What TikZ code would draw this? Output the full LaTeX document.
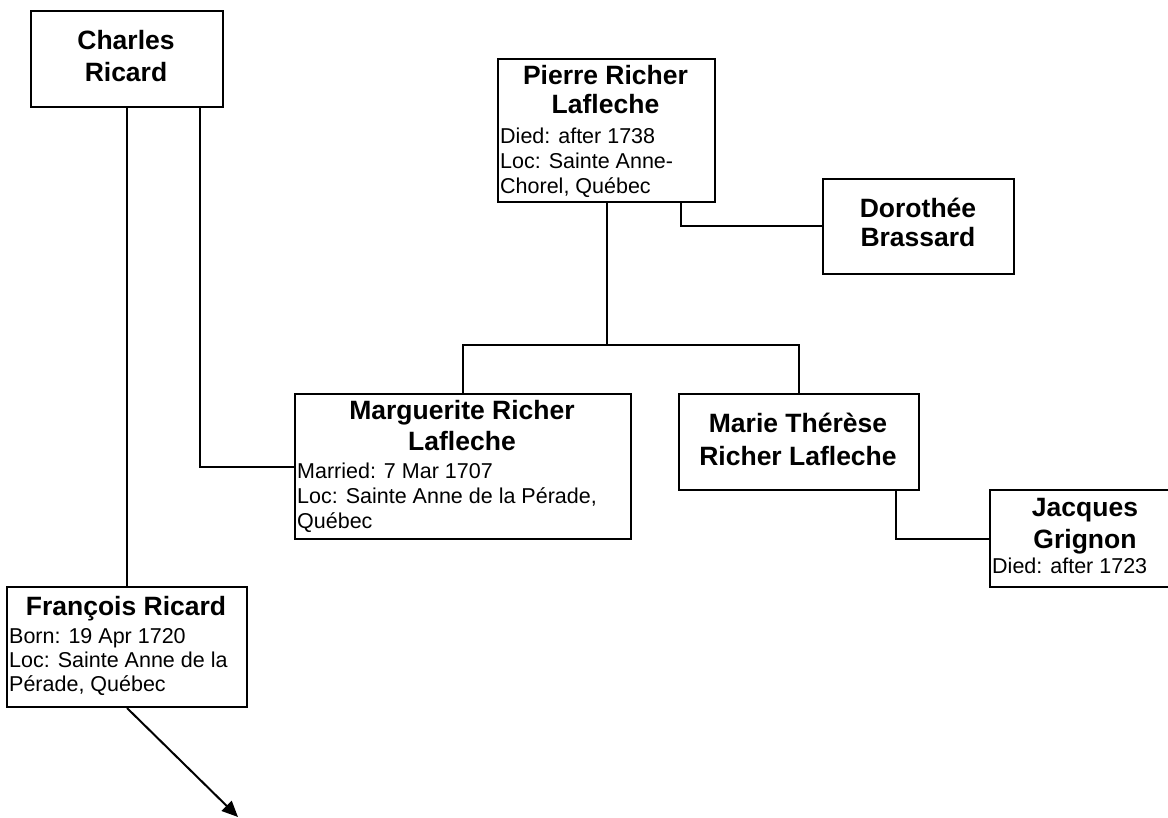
\documentclass[tikz,border=0pt]{standalone}
\usepackage{fontspec}
\setmainfont{Liberation Sans}
\usetikzlibrary{arrows.meta}
\begin{document}
\begin{tikzpicture}[x=1pt,y=-1pt,
  box/.style={draw, line width=2pt, rectangle, inner sep=0pt, anchor=north west},
  nm/.style={anchor=base, inner sep=0pt, font=\fontsize{26.5}{30}\selectfont\bfseries},
  dt/.style={anchor=base west, inner sep=0pt, font=\fontsize{21.5}{25}\selectfont},
  conn/.style={line width=2pt}]
\useasboundingbox (0,0) rectangle (1168,818);
% boxes
\node[box, minimum width=192pt, minimum height=96pt] (charles) at (30,10) {};
\node[box, minimum width=217pt, minimum height=143pt] (pierre) at (497,58) {};
\node[box, minimum width=191pt, minimum height=95pt] (doro) at (822,178) {};
\node[box, minimum width=336pt, minimum height=145pt] (marg) at (294,393) {};
\node[box, minimum width=240pt, minimum height=96pt] (marie) at (678,393) {};
\node[box, minimum width=192pt, minimum height=97pt] (jacq) at (989,489) {};
\node[box, minimum width=240pt, minimum height=120pt] (franc) at (6,586) {};
% texts
\node[nm] (t1) at (126,50) {Charles};
\node[nm] (t2) at (126,82) {Ricard};
\node[nm] (t3) at (605.5,85) {Pierre Richer};
\node[nm] (t4) at (605.5,114) {Lafleche};
\node[dt] (t5) at (500,144) {Died: after 1738};
\node[dt] (t6) at (500,169) {Loc: Sainte Anne-};
\node[dt] (t7) at (500,194) {Chorel, Québec};
\node[nm] (t8) at (918,218) {Dorothée};
\node[nm] (t9) at (918,247) {Brassard};
\node[nm] (t10) at (462,420) {Marguerite Richer};
\node[nm] (t11) at (462,450) {Lafleche};
\node[dt] (t12) at (297,478) {Married: 7 Mar 1707};
\node[dt] (t13) at (297,503) {Loc: Sainte Anne de la Pérade,};
\node[dt] (t14) at (297,528) {Québec};
\node[nm] (t15) at (798,432) {Marie Thérèse};
\node[nm] (t16) at (798,465) {Richer Lafleche};
\node[nm] (t17) at (1085,516) {Jacques};
\node[nm] (t18) at (1085,548) {Grignon};
\node[dt] (t19) at (992,573) {Died: after 1723};
\node[nm] (t20) at (126,615) {François Ricard};
\node[dt] (t21) at (9,643) {Born: 19 Apr 1720};
\node[dt] (t22) at (9,667) {Loc: Sainte Anne de la};
\node[dt] (t23) at (9,691) {Pérade, Québec};
% connectors
\coordinate (bar) at (pierre.south |- 0,345);
\coordinate (end) at (238,817);
\draw[conn] (charles.south) -- (franc.north);
\draw[conn] ([xshift=-24pt]charles.south east) |- (marg.west);
\draw[conn] ([xshift=-35pt]pierre.south east) |- (doro.west);
\draw[conn] (pierre.south) -- (bar);
\draw[conn] (marg.north) |- (bar) -| (marie.north);
\draw[conn] ([xshift=-24pt]marie.south east) |- (jacq.west);
\draw[conn, -{Triangle[length=16pt,width=14pt]}] (franc.south) -- (end);
\end{tikzpicture}
\end{document}
